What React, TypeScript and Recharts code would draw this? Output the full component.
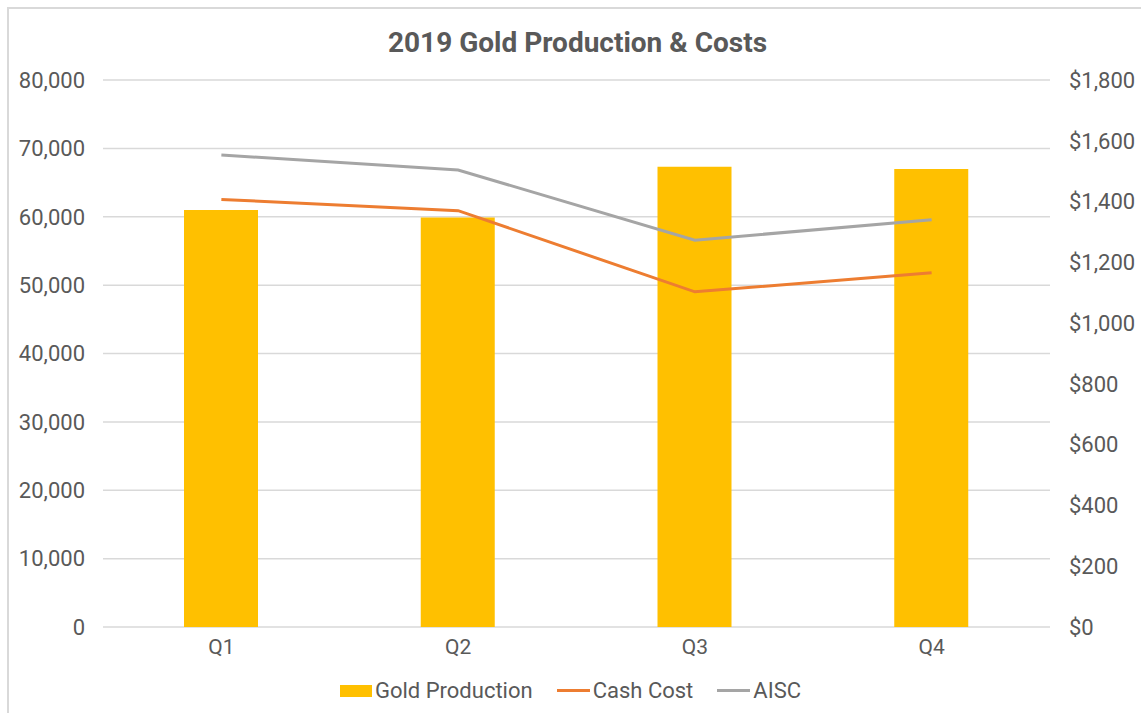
import React from 'react';
import { ComposedChart, Bar, Line, XAxis, YAxis, CartesianGrid, Legend } from 'recharts';

const quarters = ['Q1', 'Q2', 'Q3', 'Q4'];
const goldProduction = [61000, 59900, 67300, 67000];
const cashCost = [1407, 1370, 1103, 1166];
const aisc = [1553, 1504, 1273, 1340];

const leftTicks = [0, 10000, 20000, 30000, 40000, 50000, 60000, 70000, 80000];
const rightTicks = [0, 200, 400, 600, 800, 1000, 1200, 1400, 1600, 1800];

const chartData = quarters.map((q, i) => ({
  quarter: q,
  gold: goldProduction[i],
  cash: cashCost[i],
  aisc: aisc[i],
}));

const FONT = 'Roboto, "DejaVu Sans", sans-serif';
const TEXT = '#595959';

const legendItems = [
  { label: 'Gold Production', color: '#FFC000', kind: 'bar' },
  { label: 'Cash Cost', color: '#ED7D31', kind: 'line' },
  { label: 'AISC', color: '#A5A5A5', kind: 'line' },
];

const renderLegend = () => (
  <div style={{ display: 'flex', justifyContent: 'center', alignItems: 'center', paddingTop: 5, fontFamily: FONT, fontSize: 22, color: TEXT }}>
    {legendItems.map((it) => (
      <div key={it.label} style={{ display: 'flex', alignItems: 'center', margin: '0 12px' }}>
        {it.kind === 'bar'
          ? <span style={{ display: 'inline-block', width: 32, height: 12, background: it.color, marginRight: 3 }} />
          : <span style={{ display: 'inline-block', width: 33, height: 3, background: it.color, marginRight: 3 }} />}
        <span>{it.label}</span>
      </div>
    ))}
  </div>
);

const App: React.FC = () => {
  return (
    <div style={{ position: 'absolute', left: 0, top: 0, width: 1141, height: 713, overflow: 'hidden', background: '#fff' }}>
      <div style={{ position: 'absolute', left: 7, top: 7, width: 1160, height: 740, border: '2px solid #d9d9d9', boxSizing: 'border-box' }} />
      <div style={{ position: 'absolute', left: 0, width: 1155, top: 26, textAlign: 'center', fontFamily: FONT, fontWeight: 'bold', fontSize: 28, color: TEXT }}>
        2019 Gold Production &amp; Costs
      </div>
      <ComposedChart width={1141} height={713} data={chartData} margin={{ top: 80, right: 0, bottom: 0, left: 0 }}>
        <CartesianGrid yAxisId="left" vertical={false} stroke="#d9d9d9" strokeWidth={1.5} />
        <XAxis dataKey="quarter" axisLine={false} tickLine={false} tickSize={0} tickMargin={12} height={46}
          tick={{ fill: TEXT, fontSize: 21, fontFamily: FONT }} />
        <YAxis yAxisId="left" domain={[0, 80000]} ticks={leftTicks} width={103} axisLine={false} tickLine={false}
          tickSize={0} tickMargin={18} tick={{ fill: TEXT, fontSize: 22, fontFamily: FONT }}
          tickFormatter={(v: number) => v.toLocaleString('en-US')} />
        <YAxis yAxisId="right" orientation="right" domain={[0, 1800]} ticks={rightTicks} width={91} axisLine={false}
          tickLine={false} tickSize={0} tickMargin={19} tick={{ fill: TEXT, fontSize: 22, fontFamily: FONT }}
          tickFormatter={(v: number) => '$' + v.toLocaleString('en-US')} />
        <Legend verticalAlign="bottom" height={40} content={renderLegend} />
        <Bar yAxisId="left" dataKey="gold" name="Gold Production" fill="#FFC000" barSize={74} isAnimationActive={false} />
        <Line yAxisId="right" dataKey="cash" name="Cash Cost" type="linear" stroke="#ED7D31" strokeWidth={3} dot={false} isAnimationActive={false} />
        <Line yAxisId="right" dataKey="aisc" name="AISC" type="linear" stroke="#A5A5A5" strokeWidth={3} dot={false} isAnimationActive={false} />
      </ComposedChart>
    </div>
  );
};

export default App;
